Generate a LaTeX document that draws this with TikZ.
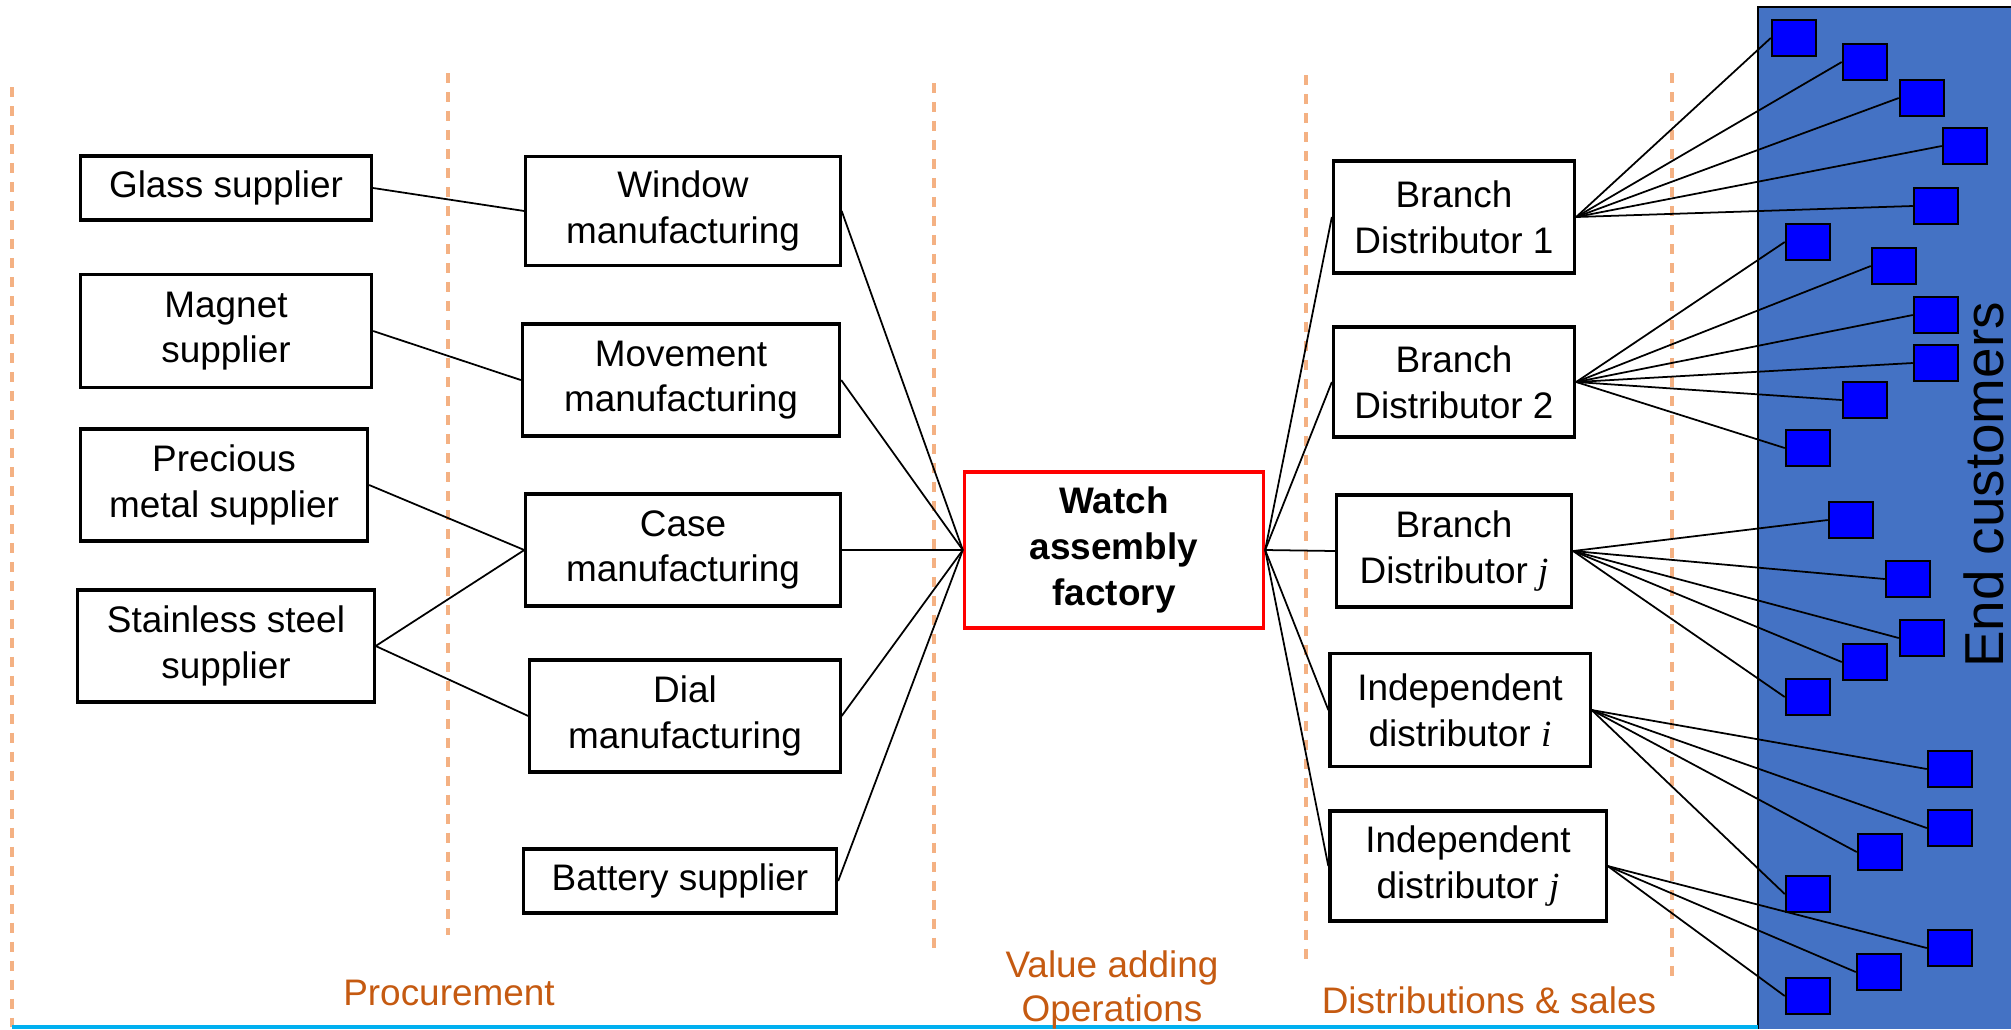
\documentclass[tikz,border=0pt]{standalone}
\usepackage{fontspec}
\setmainfont{Liberation Sans}
\newfontfamily\idxfont{Liberation Serif}
\usepackage{xcolor}
\usepackage{tikz}
\usetikzlibrary{arrows.meta}
\definecolor{sepline}{HTML}{F4B183}
\definecolor{phase}{HTML}{C55A11}
\definecolor{custbg}{HTML}{4472C4}
\definecolor{rulecyan}{HTML}{00B0F0}
\newcommand{\idx}[1]{{\idxfont\itshape #1}}

\begin{document}
\begin{tikzpicture}[x=0.01cm, y=-0.01cm,
    party/.style={rectangle, draw, line width=0.9pt, align=center, inner sep=0pt,
                  font=\fontsize{10.5}{13}\selectfont},
    factory/.style={party, draw=red, font=\fontsize{10.5}{13}\selectfont\bfseries},
    customer/.style={rectangle, draw, line width=0.7pt, fill=blue,
                     minimum width=0.44cm, minimum height=0.36cm, inner sep=0pt},
    link/.style={line width=0.5pt},
    phaseline/.style={draw=sepline, line width=0.9pt, dash pattern=on 2.9pt off 2.5pt},
    phasename/.style={text=phase, align=center, inner sep=0pt,
                      font=\fontsize{10.5}{12.5}\selectfont},
]
\useasboundingbox (0,0) rectangle (2011,1029);

% End customers area
\fill[custbg] (1758,7) rectangle (2011,1029);
\draw[line width=0.6pt] (1758,1029) -- (1758,7) -- (2011,7);
\node[rotate=90, anchor=base, inner sep=0pt, font=\fontsize{15.6}{18}\selectfont] (endcust) at (2003,485) {End customers};

% Phase separators
\draw[phaseline] (12,87) -- (12,1027);
\draw[phaseline] (448,73) -- (448,935);
\draw[phaseline] (934,83) -- (934,952);
\draw[phaseline] (1306,75) -- (1306,963);
\draw[phaseline] (1672,73) -- (1672,977);
\draw[rulecyan, line width=0.9pt] (12,1027) -- (1758,1027);

% Raw material suppliers
\node[party, minimum width=2.91cm, minimum height=0.64cm] (glass) at (226,188) {Glass supplier};
\node[party, minimum width=2.91cm, minimum height=1.13cm] (magnet) at (226,331) {Magnet\\supplier};
\node[party, minimum width=2.87cm, minimum height=1.12cm] (precious) at (224,485) {Precious\\metal supplier};
\node[party, minimum width=2.96cm, minimum height=1.12cm] (steel) at (226,646) {Stainless steel\\supplier};

% Component manufacturing
\node[party, minimum width=3.14cm, minimum height=1.09cm] (window) at (683,211) {Window\\manufacturing};
\node[party, minimum width=3.17cm, minimum height=1.12cm] (movement) at (681,380) {Movement\\manufacturing};
\node[party, minimum width=3.14cm, minimum height=1.12cm] (case) at (683,550) {Case\\manufacturing};
\node[party, minimum width=3.10cm, minimum height=1.12cm] (dial) at (685,716) {Dial\\manufacturing};
\node[party, minimum width=3.13cm, minimum height=0.64cm] (battery) at (680,881) {Battery supplier};

% Assembly
\node[factory, minimum width=2.99cm, minimum height=1.56cm] (watch) at (1114,550) {Watch\\assembly\\factory};

% Distributors
\node[party, minimum width=2.41cm, minimum height=1.12cm] (branch1) at (1454,217) {Branch\\Distributor 1};
\node[party, minimum width=2.41cm, minimum height=1.10cm] (branch2) at (1454,382) {Branch\\Distributor 2};
\node[party, minimum width=2.35cm, minimum height=1.12cm] (branchj) at (1454,551) {Branch\\Distributor \idx{j}};
\node[party, minimum width=2.60cm, minimum height=1.13cm] (indepi) at (1460,710) {Independent\\distributor \idx{i}};
\node[party, minimum width=2.76cm, minimum height=1.10cm] (indepj) at (1468,866) {Independent\\distributor \idx{j}};

% Supply links
\draw[link] (glass.east) -- (window.west);
\draw[link] (magnet.east) -- (movement.west);
\draw[link] (precious.east) -- (case.west);
\draw[link] (steel.east) -- (case.west);
\draw[link] (steel.east) -- (dial.west);
\foreach \m in {window,movement,case,dial,battery}
    \draw[link] (\m.east) -- (watch.west);
\foreach \d in {branch1,branch2,branchj,indepi,indepj}
    \draw[link] (watch.east) -- (\d.west);

% Customers
\foreach \n/\px/\py/\src in {
    1/1794/38/branch1, 2/1865/62/branch1, 3/1922/98/branch1, 4/1965/146/branch1, 5/1936/206/branch1,
    6/1808/242/branch2, 7/1894/266/branch2, 8/1936/315/branch2, 9/1936/363/branch2, 10/1865/400/branch2, 11/1808/448/branch2,
    12/1851/520/branchj, 13/1908/579/branchj, 14/1922/638/branchj, 15/1865/662/branchj, 16/1808/697/branchj,
    17/1950/769/indepi, 18/1950/828/indepi, 19/1880/852/indepi, 20/1808/894/indepi,
    21/1950/948/indepj, 22/1879/972/indepj, 23/1808/996/indepj}
{
    \node[customer] (c\n) at (\px,\py) {};
    \draw[link] (\src.east) -- (c\n.west);
}

% Phase names
\node[phasename, anchor=base] (procure) at (449,1005) {Procurement};
\node[phasename, anchor=north] (valueadd) at (1112,950) {Value adding\\Operations};
\node[phasename, anchor=base] (distsales) at (1489,1013) {Distributions \& sales};

\end{tikzpicture}
\end{document}
